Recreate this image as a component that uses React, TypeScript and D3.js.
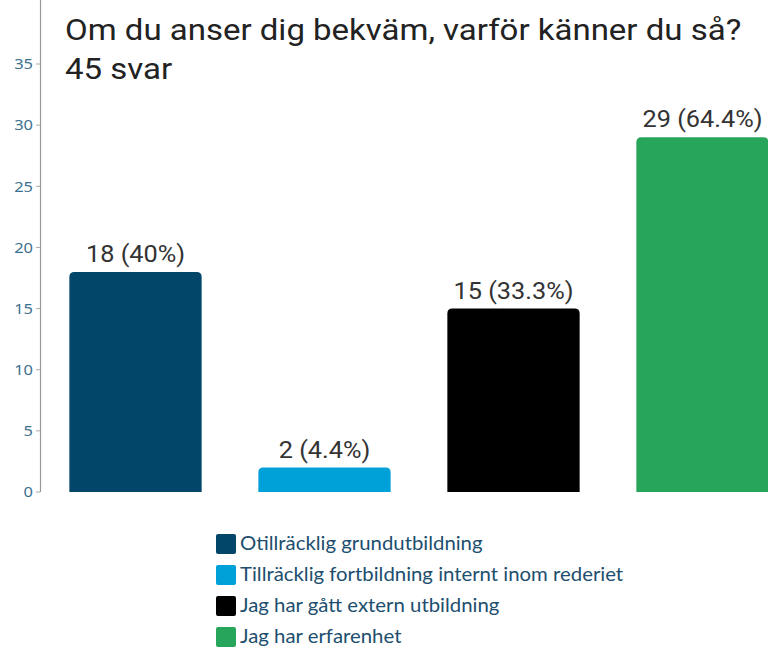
import React from 'react';
import * as d3 from 'd3';

const categories = [
  'Otillräcklig grundutbildning',
  'Tillräcklig fortbildning internt inom rederiet',
  'Jag har gått extern utbildning',
  'Jag har erfarenhet',
];
const counts = [18, 2, 15, 29];
const percents = ['40%', '4.4%', '33.3%', '64.4%'];
const colors = ['#02466a', '#00a0d8', '#000000', '#27a55a'];
const yTicks = [0, 5, 10, 15, 20, 25, 30, 35];

const W = 768;
const H = 650;
// the source picture is slightly stretched sideways
const SX = 1.1;

// rounded top corners only
const topRounded = (x: number, y: number, w: number, h: number, r: number) =>
  `M${x},${y + h}V${y + r}Q${x},${y} ${x + r},${y}H${x + w - r}Q${x + w},${y} ${x + w},${y + r}V${y + h}Z`;

const Txt = (props: any) => {
  const { x, y, children, ...rest } = props;
  return (
    <text transform={`translate(${x},${y}) scale(${SX},1)`} {...rest}>
      {children}
    </text>
  );
};

const App = () => {
  const yScale = d3.scaleLinear().domain([0, 35]).range([492, 64]);
  const xScale = d3
    .scaleBand<string>()
    .domain(categories)
    .range([41, 797])
    .paddingInner(0.3)
    .paddingOuter(0.15);

  return (
    <svg width={W} height={H} style={{ position: 'absolute', left: 0, top: 0 }}>
      <rect width={W} height={H} fill="#fff" />
      <Txt x={65} y={40} fontFamily="Roboto" fontSize={30} fill="#222">
        Om du anser dig bekväm, varför känner du så?
      </Txt>
      <Txt x={65} y={79} fontFamily="Roboto" fontSize={30} fill="#222">
        45 svar
      </Txt>

      {/* y axis */}
      <line x1={40.5} x2={40.5} y1={0} y2={492} stroke="#999" strokeWidth={1.2} />
      {yTicks.map((t) => (
        <g key={t}>
          <line x1={36} x2={40} y1={yScale(t)} y2={yScale(t)} stroke="#aaa" />
          <Txt
            x={33}
            y={yScale(t)}
            dy="0.35em"
            textAnchor="end"
            fontFamily="Noto Sans"
            fontSize={15}
            fill="#3d7190"
          >
            {t}
          </Txt>
        </g>
      ))}

      {categories.map((c, i) => {
        const x = xScale(c)!;
        const w = xScale.bandwidth();
        const y = yScale(counts[i]);
        return (
          <g key={c}>
            <path d={topRounded(x, y, w, yScale(0) - y, 5)} fill={colors[i]} />
            <Txt
              x={x + w / 2}
              y={y - 10}
              textAnchor="middle"
              fontFamily="Roboto"
              fontSize={23}
              fill="#333"
            >
              {`${counts[i]} (${percents[i]})`}
            </Txt>
          </g>
        );
      })}

      {/* legend */}
      {categories.map((c, i) => (
        <g key={c} transform={`translate(216,${544 + i * 31})`}>
          <rect x={0} y={-10} width={20} height={20} rx={2} fill={colors[i]} />
          <Txt x={24} y={0} dy="0.35em" fontFamily="Lato" fontSize={18.5} fill="#204e6e">
            {c}
          </Txt>
        </g>
      ))}
    </svg>
  );
};

export default App;
